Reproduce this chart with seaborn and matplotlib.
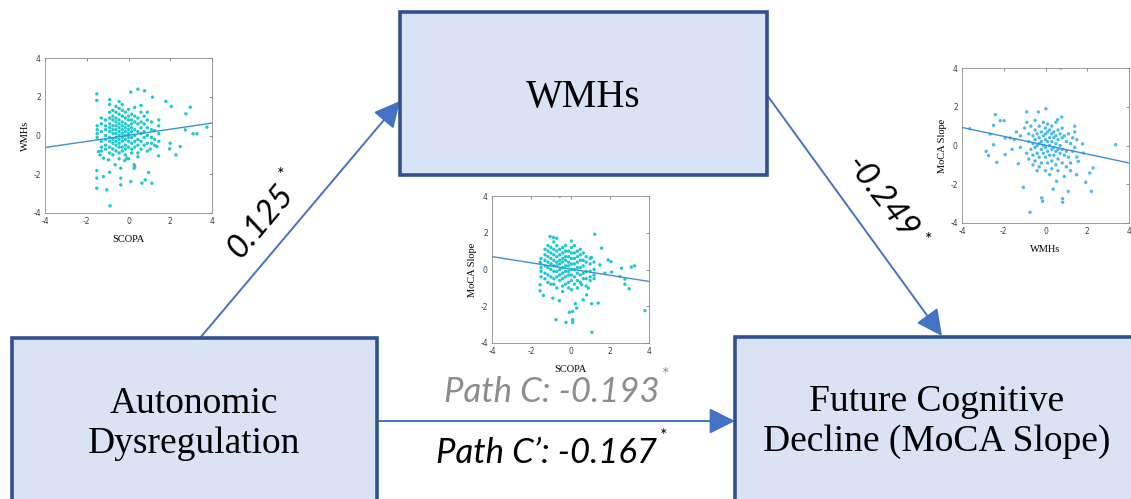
import matplotlib
matplotlib.use("Agg")
import matplotlib.pyplot as plt
import seaborn as sns
import pandas as pd
from matplotlib.patches import Rectangle

# ---- scatter data (standardised scores) ----
# inset 1: WMHs vs SCOPA, columns of points at each SCOPA value
wmhs_cols = {
    -1.5: [0.5, 0.3, 0.1, -0.1],
    -1.3: [0.9, 0.6, 0.2, -0.3, -0.6, -0.8],
    -1.1: [0.8, 0.5, 0.3, 0.0, -0.2, -0.5, -0.7],
    -0.9: [1.85, 1.6, 1.2, 0.9, 0.6, 0.4, 0.2, -0.1, -0.3, -0.6, -0.9, -1.9],
    -0.75: [1.3, 1.0, 0.8, 0.5, 0.3, 0.1, -0.2, -0.4, -0.7, -1.0],
    -0.6: [1.5, 1.2, 0.9, 0.7, 0.5, 0.3, 0.1, -0.1, -0.3, -0.5, -0.8],
    -0.45: [1.75, 1.4, 1.1, 0.8, 0.6, 0.4, 0.2, 0.0, -0.2, -0.4, -0.6, -0.9, -1.2],
    -0.3: [1.6, 1.3, 1.0, 0.7, 0.5, 0.3, 0.1, -0.1, -0.3, -0.6, -0.8],
    -0.15: [1.2, 0.9, 0.6, 0.4, 0.2, 0.0, -0.2, -0.5, -0.7, -1.0],
    0.0: [1.35, 1.0, 0.8, 0.5, 0.3, 0.1, -0.1, -0.3, -0.6, -1.2],
    0.15: [1.1, 0.8, 0.6, 0.4, 0.2, -0.1, -0.4, -0.7, -0.9],
    0.3: [1.45, 1.0, 0.7, 0.3, 0.0, -0.3, -0.6, -1.6],
    0.45: [0.9, 0.6, 0.2, -0.2, -0.5, -0.9, -1.1],
    0.6: [1.55, 1.2, 0.7, 0.4, 0.1, -0.3, -0.7],
    0.75: [1.0, 0.6, 0.2, -0.1, -0.5],
    0.9: [1.2, 0.8, 0.4, 0.0, -0.4, -0.8],
    1.1: [0.7, 0.3, -0.1, -0.4],
    1.25: [0.25, -0.2, -0.5],
    1.45: [0.8, 0.5, 0.1, -0.3],
}
wmhs_extra = [
    (-1.52, 2.15), (-1.52, 1.81), (0.45, 2.39), (0.11, 2.24), (0.77, 2.31),
    (1.15, 1.98), (1.79, 1.76), (2.05, 1.5), (2.96, 1.46), (2.75, 1.12),
    (2.72, 0.29), (3.09, 0.09), (3.28, 0.09), (3.76, 0.43), (2.48, -0.57),
    (2.27, -1.0), (1.97, -0.69), (2.0, -0.4), (-1.52, -1.81), (-1.52, -2.2),
    (-1.52, -2.72), (-1.04, -2.8), (-0.88, -3.63), (-1.2, -2.12), (-0.64, -1.51),
    (-0.37, -1.69), (-0.37, -2.55), (-0.37, -2.2), (0.11, -2.38), (0.27, -1.69),
    (0.27, -1.51), (0.64, -2.46), (0.8, -2.29), (1.12, -2.46), (0.96, -1.91),
    (-0.08, -1.17), (-0.18, -1.29), (-1.2, -1.17), (-0.96, -1.26), (-1.44, -0.83),
    (-1.36, -1.0), (1.44, -1.05), (1.04, -0.7), (1.36, -0.57),
]

# inset 2: MoCA slope vs SCOPA
moca_cols = {
    -1.5: [0.6, 0.3, 0.1, -0.1, -0.4],
    -1.3: [1.1, 0.8, 0.5, 0.2, -0.2, -0.5],
    -1.15: [1.3, 1.0, 0.7, 0.4, 0.1, -0.3, -0.7],
    -1.0: [1.2, 0.9, 0.6, 0.3, 0.0, -0.4, -0.8],
    -0.85: [1.5, 1.1, 0.8, 0.5, 0.2, -0.1, -0.5, -0.8],
    -0.7: [1.3, 1.0, 0.7, 0.4, 0.2, -0.1, -0.4, -1.0],
    -0.55: [1.1, 0.8, 0.5, 0.3, 0.0, -0.3, -0.6],
    -0.4: [1.2, 0.9, 0.6, 0.4, 0.1, -0.2, -0.5, -0.9, -1.2],
    -0.25: [1.3, 1.0, 0.7, 0.5, 0.2, -0.1, -0.4, -0.8],
    -0.1: [1.0, 0.7, 0.4, 0.2, -0.1, -0.3, -0.7, -1.0],
    0.05: [1.55, 1.2, 0.9, 0.6, 0.3, 0.0, -0.3, -0.6, -1.1],
    0.2: [1.3, 0.9, 0.6, 0.3, 0.0, -0.4, -0.8],
    0.35: [1.0, 0.7, 0.4, 0.1, -0.2, -0.6, -1.0],
    0.5: [1.1, 0.8, 0.5, 0.1, -0.3, -0.7],
    0.65: [0.9, 0.5, 0.2, -0.2, -0.5],
    0.8: [0.7, 0.4, -0.1, -0.5, -0.9],
    1.0: [0.6, 0.3, -0.1, -0.4, -0.6],
    1.2: [0.4, 0.0, -0.3, -0.5],
}
moca_extra = [
    (-0.55, 4.0), (1.24, 1.92), (1.58, 1.16), (-1.55, 0.4), (-1.55, -0.83),
    (-1.55, -1.16), (-1.38, -1.41), (-0.74, -2.73), (-0.23, -2.88), (-0.06, -2.33),
    (0.11, -2.28), (0.11, -2.73), (0.11, -2.88), (0.25, -1.86), (0.31, -2.1),
    (1.09, -3.42), (1.08, -1.86), (1.41, -1.83), (3.79, -2.24), (3.1, 0.13),
    (3.27, 0.2), (2.6, 0.07), (2.77, -0.52), (2.99, -1.05), (2.77, -0.8),
    (2.52, -0.38), (2.06, 0.43), (1.92, 0.52), (2.09, -0.14), (1.75, -0.2),
    (1.5, 0.25), (1.07, 0.65), (0.65, -1.65), (0.82, -1.38), (0.57, -0.83),
    (0.91, -1.01), (-0.57, -1.7), (-0.9, -1.56), (-1.04, 1.79), (-0.87, 1.74),
    (-0.7, 1.7),
]

# inset 3: MoCA slope vs WMHs
moca_wmhs = [
    (0.72, 4.0), (-2.4, 1.59), (-2.49, 1.04), (-2.17, 1.28), (-1.98, 1.28),
    (-2.84, -0.3), (-2.73, -0.52), (-2.33, -0.87), (-2.49, 0.04), (-2.65, 0.59),
    (-1.93, -0.47), (-1.69, 0.39), (-1.93, 0.39), (-3.63, 0.87), (-1.3, -0.94),
    (-1.06, -2.16), (-0.74, -3.45), (-0.18, -2.71), (-0.14, -2.88), (0.82, -2.74),
    (0.82, -2.93), (1.09, -2.37), (0.37, -2.25), (0.53, -1.85), (1.93, -1.9),
    (2.2, -2.37), (2.28, -1.16), (2.12, -1.42), (3.36, 0.04), (1.77, 0.08),
    (1.81, -0.39), (1.49, -1.51), (1.57, -0.82), (-0.9, 1.73), (-0.34, 1.73),
    (0.02, 1.9), (0.77, 1.47), (0.58, 1.33),
    (-1.0, 0.9), (-0.9, 1.2), (-0.8, 0.6), (-0.8, 0.2), (-0.7, 1.0), (-0.7, -0.2),
    (-0.6, 0.5), (-0.6, 0.1), (-0.6, -0.5), (-0.5, 1.3), (-0.5, 0.8), (-0.5, 0.3),
    (-0.5, -0.1), (-0.5, -0.8), (-0.4, 0.6), (-0.4, 0.0), (-0.4, -0.4), (-0.3, 1.0),
    (-0.3, 0.4), (-0.3, 0.1), (-0.3, -0.6), (-0.3, -1.1), (-0.2, 0.7), (-0.2, 0.2),
    (-0.2, -0.2), (-0.2, -0.9), (-0.1, 1.2), (-0.1, 0.5), (-0.1, 0.0), (-0.1, -0.4),
    (0.0, 0.9), (0.0, 0.6), (0.0, 0.3), (0.0, -0.1), (0.0, -0.6), (0.0, -1.3),
    (0.1, 1.1), (0.1, 0.7), (0.1, 0.2), (0.1, -0.3), (0.1, -0.9), (0.2, 0.8),
    (0.2, 0.4), (0.2, 0.0), (0.2, -0.5), (0.3, 1.0), (0.3, 0.6), (0.3, 0.2),
    (0.3, -0.2), (0.3, -0.8), (0.3, -1.2), (0.4, 0.7), (0.4, 0.4), (0.4, -0.1),
    (0.4, -0.5), (0.5, 1.2), (0.5, 0.5), (0.5, 0.1), (0.5, -0.3), (0.5, -1.0),
    (0.6, 0.8), (0.6, 0.3), (0.6, -0.2), (0.6, -0.7), (0.7, 0.6), (0.7, 0.0),
    (0.7, -0.4), (0.8, 0.9), (0.8, 0.4), (0.8, -0.2), (0.8, -0.9), (0.9, 0.5),
    (0.9, -0.5), (1.0, 0.2), (1.0, -0.3), (1.0, -1.1), (1.1, 0.6), (1.1, -0.6),
    (1.2, 0.1), (1.2, -0.9), (1.3, 0.4), (1.3, -0.3), (1.4, 1.0), (1.4, 0.7),
    (1.4, -0.1), (1.5, 0.3), (1.5, -0.6), (-1.2, 0.5), (-1.2, -0.1), (-1.4, 0.7),
    (-1.5, 0.3), (-1.6, -0.2), (-0.9, -0.4), (-0.8, -0.7), (-0.6, -1.0),
    (-0.4, -1.3), (0.2, -1.5), (0.6, -1.3), (0.9, -1.6), (1.2, -1.3),
]

# fitted lines, end points read at x = -4 and x = 4
fit_x = [-4, 4]
fit_wmhs_scopa = [-0.62, 0.64]
fit_moca_scopa = [0.70, -0.65]
fit_moca_wmhs = [0.93, -0.90]

# path coefficients
path_a = "0.125"
path_b = "-0.249"
path_c = "Path C: -0.193"
path_c_prime = "Path C\u2019: -0.167"


def to_frame(cols, extra):
    rows = [(x, y) for x, ys in cols.items() for y in ys] + list(extra)
    return pd.DataFrame(rows, columns=["x", "y"])


df_a = to_frame(wmhs_cols, wmhs_extra)
df_c = to_frame(moca_cols, moca_extra)
df_b = pd.DataFrame(moca_wmhs, columns=["x", "y"])

sns.set_style("white")
plt.rcParams["text.color"] = "black"
plt.rcParams["axes.labelcolor"] = "black"
plt.rcParams["axes.unicode_minus"] = False

W, H = 1131, 499
fig = plt.figure(figsize=(W / 100, H / 100), dpi=100)

# background axes in pixel units for boxes, arrows and labels
bg = fig.add_axes([0, 0, 1, 1])
bg.set_xlim(0, W)
bg.set_ylim(H, 0)
bg.axis("off")

box_fill = "#DAE3F3"
box_edge = "#2F528F"
arrow_col = "#4472C4"

for (x0, y0, x1, y1) in [(400, 12, 767, 175), (12, 338, 377, 520), (735, 337, 1150, 520)]:
    bg.add_patch(Rectangle((x0, y0), x1 - x0, y1 - y0, facecolor=box_fill,
                           edgecolor=box_edge, lw=2.6, zorder=2))

serif = "Liberation Serif"
bg.text(583, 97, "WMHs", family=serif, fontsize=28, ha="center", va="center", zorder=3)
bg.text(194, 404, "Autonomic", family=serif, fontsize=27, ha="center", va="center", zorder=3)
bg.text(194, 444, "Dysregulation", family=serif, fontsize=27, ha="center", va="center", zorder=3)
bg.text(937, 402, "Future Cognitive", family=serif, fontsize=27, ha="center", va="center", zorder=3)
bg.text(937, 442, "Decline (MoCA Slope)", family=serif, fontsize=27, ha="center", va="center", zorder=3)

arrows = [((200, 338), (400, 101)), ((767, 95), (942, 336)), ((377, 421), (735, 421))]
for start, tip in arrows:
    bg.annotate("", xy=tip, xytext=start,
                arrowprops=dict(arrowstyle="-|>,head_length=1.0,head_width=0.5",
                                color=arrow_col, lw=1.4, shrinkA=0, shrinkB=0,
                                mutation_scale=16), zorder=1)

lab = "Lato"
bg.text(261, 222, path_a, family=lab, style="italic", fontsize=24, rotation=50,
        ha="center", va="center", rotation_mode="anchor")
bg.text(281, 175, "*", family=lab, fontsize=13, ha="center", va="center")
bg.text(881, 198, path_b, family=lab, style="italic", fontsize=24, rotation=-52,
        ha="center", va="center", rotation_mode="anchor")
bg.text(929, 240, "*", family=lab, fontsize=13, ha="center", va="center")
bg.text(552, 392, path_c, family=lab, style="italic", fontsize=25, color="#8C8C8C",
        ha="center", va="center")
bg.text(666, 375, "*", family=lab, fontsize=13, color="#8C8C8C", ha="center", va="center")
bg.text(546, 453, path_c_prime, family=lab, style="italic", fontsize=25,
        ha="center", va="center")
bg.text(664, 436, "*", family=lab, fontsize=13, ha="center", va="center")


def inset(rect, df, fit_y, xlabel, ylabel, dot_col):
    ax = fig.add_axes(rect)
    sns.scatterplot(data=df, x="x", y="y", ax=ax, color=dot_col, s=6,
                    edgecolor="none", linewidth=0)
    sns.lineplot(x=fit_x, y=fit_y, ax=ax, color="#3D8FD6", lw=1.0)
    ax.set_xlim(-4, 4)
    ax.set_ylim(-4, 4)
    ax.set_xticks([-4, -2, 0, 2, 4])
    ax.set_yticks([-4, -2, 0, 2, 4])
    ax.tick_params(direction="in", length=2, width=0.5, labelsize=5.5,
                   colors="#606060", top=True, right=True, pad=3)
    ax.tick_params(labelcolor="#404040")
    for sp in ax.spines.values():
        sp.set_color("#8A8A8A")
        sp.set_linewidth(0.6)
    ax.set_xlabel(xlabel, family=serif, fontsize=7.5, labelpad=6)
    ax.set_ylabel(ylabel, family=serif, fontsize=7.5, labelpad=2)
    ax.set_facecolor("white")
    return ax


inset([45 / W, 1 - 213 / H, 167 / W, 155 / H], df_a, fit_wmhs_scopa, "SCOPA", "WMHs", "#1CC9CF")
inset([492 / W, 1 - 343 / H, 157 / W, 147 / H], df_c, fit_moca_scopa, "SCOPA", "MoCA Slope", "#1CC9CF")
inset([962 / W, 1 - 223 / H, 167 / W, 155 / H], df_b, fit_moca_wmhs, "WMHs", "MoCA Slope", "#4CB8EC")

fig.savefig("out.png", dpi=100)
